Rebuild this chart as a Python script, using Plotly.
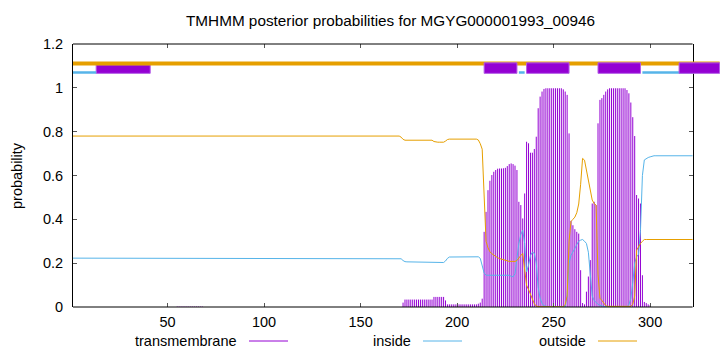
import plotly.graph_objects as go

# ---------------- data ----------------
residues = list(range(1, 323))
seq_len = 322

transmembrane = ([0.0] * 54 + [0.002] * 14 + [0.0] * 103 + [0.02] + [0.034] * 15 + [0.046] * 6 + [0.03]
                 + [0.012] * 16
                 + [0.015, 0.02, 0.038, 0.343, 0.434, 0.533, 0.576, 0.602, 0.617, 0.625,
                    0.631, 0.632, 0.632, 0.633, 0.635, 0.643, 0.652, 0.655, 0.652, 0.645,
                    0.625, 0.48, 0.465, 0.404, 0.518, 0.754, 0.747, 0.704, 0.704, 0.721,
                    0.777, 0.907, 0.96, 0.983, 0.995]
                 + [0.998] * 9
                 + [0.993, 0.983, 0.968, 0.792, 0.393, 0.373, 0.355, 0.343, 0.335, 0.168,
                    0.018, 0.012, 0.07, 0.139, 0.214, 0.472, 0.48, 0.465, 0.838, 0.945,
                    0.953, 0.968, 0.983, 0.993]
                 + [0.998] * 9
                 + [0.99, 0.975, 0.933, 0.866, 0.78, 0.511, 0.495, 0.472, 0.145, 0.023,
                    0.018, 0.012, 0.008]
                 + [0.0] * 22)

inside = ([0.223] * 170 + [0.22, 0.212, 0.207, 0.206] + [0.206] * 13 + [0.204] + [0.203] * 5
          + [0.21, 0.222] + [0.228] * 15
          + [0.229, 0.222, 0.19, 0.155] + [0.145] * 13
          + [0.14, 0.138, 0.152, 0.22, 0.29, 0.33, 0.351, 0.29, 0.16, 0.19,
             0.235, 0.25, 0.245, 0.2, 0.09, 0.04, 0.017, 0.005]
          + [0.002] * 11
          + [0.05, 0.2, 0.236, 0.25, 0.267, 0.285, 0.3, 0.305, 0.308, 0.3,
             0.29, 0.25, 0.15, 0.05, 0.03, 0.02, 0.012, 0.008, 0.004]
          + [0.002] * 13
          + [0.01, 0.04, 0.11, 0.2, 0.229, 0.24, 0.35, 0.6, 0.671, 0.678,
             0.682, 0.685, 0.688]
          + [0.69] * 21)

outside = ([0.78] * 170 + [0.775, 0.765] + [0.761] * 15 + [0.755] + [0.752] * 5
           + [0.757, 0.764] + [0.766] * 15
           + [0.762, 0.745, 0.72, 0.47, 0.3, 0.27, 0.252, 0.243, 0.236, 0.23,
              0.225, 0.221, 0.218, 0.215, 0.213]
           + [0.208] * 5
           + [0.212, 0.225, 0.235, 0.244, 0.183, 0.099, 0.08, 0.06, 0.04, 0.015, 0.004]
           + [0.001] * 14
           + [0.012, 0.05, 0.3, 0.39, 0.4, 0.41, 0.43, 0.47, 0.56, 0.678,
              0.67, 0.62, 0.58, 0.53, 0.488, 0.472, 0.465, 0.15, 0.04, 0.03,
              0.015, 0.006]
           + [0.003] * 13
           + [0.012, 0.05, 0.259, 0.277, 0.29, 0.3]
           + [0.308] * 26)

assert len(transmembrane) == seq_len, len(transmembrane)
assert len(inside) == seq_len, len(inside)
assert len(outside) == seq_len, len(outside)

# topology bar at the top of the plot
tm_start = [13, 214, 236, 273, 315]
tm_end = [41, 231, 258, 295, 336]
inside_start = [1, 232, 296]
inside_end = [13, 235, 322]
outside_start = [1]
outside_end = [336]

x_ticks = [50, 100, 150, 200, 250, 300]
y_ticks = [0, 0.2, 0.4, 0.6, 0.8, 1.0, 1.2]
y_tick_text = ["0", "0.2", "0.4", "0.6", "0.8", "1", "1.2"]

title = "TMHMM posterior probabilities for MGYG000001993_00946"
legend_names = ["transmembrane", "inside", "outside"]

# ---------------- style ----------------
PURPLE = "#9400D3"
BLUE = "#56B4E9"
ORANGE = "#E69F00"
FONT = "Liberation Sans, Arial, sans-serif"
FS = 14.5
W, H = 720, 352
ML, MR, MT, MB = 73, 0, 44, 45
x_range = [1, 336.2]
y_range = [0, 1.2]


def px_to_paper_x(px):
    return (px - ML) / (W - ML - MR)


def px_to_paper_y(py):
    return (H - MB - py) / (H - MT - MB)


fig = go.Figure()

# impulses (gnuplot "with impulses"): one vertical segment per residue
imp_x, imp_y = [], []
for r, v in zip(residues, transmembrane):
    if v > 0:
        imp_x += [r, r, None]
        imp_y += [0, v, None]
fig.add_trace(go.Scatter(x=imp_x, y=imp_y, mode="lines", connectgaps=False,
                         line=dict(color=PURPLE, width=1), showlegend=False, hoverinfo="skip"))
fig.add_trace(go.Scatter(x=residues, y=inside, mode="lines",
                         line=dict(color=BLUE, width=1), showlegend=False))
fig.add_trace(go.Scatter(x=residues, y=outside, mode="lines",
                         line=dict(color=ORANGE, width=1), showlegend=False))
# dummy trace to activate the mirror axes
fig.add_trace(go.Scatter(x=[None], y=[None], xaxis="x2", yaxis="y2", showlegend=False))

shapes = []
# first TM box drawn beneath the outside line
shapes.append(dict(type="rect", xref="x", yref="y", x0=tm_start[0], x1=tm_end[0],
                   y0=1.066, y1=1.105, fillcolor=PURPLE, line=dict(color="#b35ee6", width=1)))
for s, e in zip(outside_start, outside_end):
    shapes.append(dict(type="line", xref="x", yref="y", x0=s, x1=e, y0=1.111, y1=1.111,
                       line=dict(color=ORANGE, width=4)))
for s, e in zip(inside_start, inside_end):
    shapes.append(dict(type="line", xref="x", yref="y", x0=s, x1=e, y0=1.07, y1=1.07,
                       line=dict(color=BLUE, width=2.5)))
for s, e in zip(tm_start[1:], tm_end[1:]):
    shapes.append(dict(type="rect", xref="x", yref="y", x0=s, x1=e,
                       y0=1.066, y1=1.114, fillcolor=PURPLE, line=dict(color="#b35ee6", width=1)))

# frame (bottom, top) limited to the sequence length
for yy in (0, 1):
    shapes.append(dict(type="line", xref="x", yref="paper", x0=x_range[0], x1=seq_len,
                       y0=yy, y1=yy, line=dict(color="black", width=1)))

# custom legend (text followed by sample line, gnuplot style)
legend_text_right = [239, 413, 588]
legend_colors = [PURPLE, BLUE, ORANGE]
annotations = []
leg_y = px_to_paper_y(341)
for name, right, col in zip(legend_names, legend_text_right, legend_colors):
    annotations.append(dict(text=name, xref="paper", yref="paper", x=px_to_paper_x(right), y=leg_y,
                            xanchor="right", yanchor="middle", showarrow=False,
                            font=dict(family=FONT, size=FS, color="black")))
    shapes.append(dict(type="line", xref="paper", yref="paper",
                       x0=px_to_paper_x(right + 10), x1=px_to_paper_x(right + 49),
                       y0=leg_y, y1=leg_y, line=dict(color=col, width=1)))

annotations.append(dict(text=title, xref="paper", yref="paper", x=px_to_paper_x(390),
                        y=px_to_paper_y(20), xanchor="center", yanchor="middle", showarrow=False,
                        font=dict(family=FONT, size=15.3, color="black")))
annotations.append(dict(text="probability", xref="paper", yref="paper", x=px_to_paper_x(17),
                        y=px_to_paper_y(176), xanchor="center", yanchor="middle", showarrow=False,
                        textangle=-90, font=dict(family=FONT, size=FS, color="black")))

right_pos = (seq_len - x_range[0]) / (x_range[1] - x_range[0])

fig.update_layout(
    width=W, height=H,
    margin=dict(l=ML, r=MR, t=MT, b=MB, pad=0),
    paper_bgcolor="white", plot_bgcolor="white",
    font=dict(family=FONT, size=FS, color="black"),
    showlegend=False,
    shapes=shapes,
    annotations=annotations,
    xaxis=dict(range=x_range, tickvals=x_ticks, ticktext=[str(v) for v in x_ticks],
               ticks="inside", ticklen=4, tickcolor="#555", showgrid=False, zeroline=False,
               showline=False, ticklabelstandoff=4,
               tickfont=dict(family=FONT, size=FS)),
    yaxis=dict(range=y_range, tickvals=y_ticks, ticktext=y_tick_text,
               ticks="inside", ticklen=4, tickcolor="#555", showgrid=False, zeroline=False,
               showline=True, linecolor="black", linewidth=1, ticklabelstandoff=6,
               tickfont=dict(family=FONT, size=FS)),
    xaxis2=dict(range=x_range, overlaying="x", side="top", anchor="y", tickvals=x_ticks,
                ticks="inside", ticklen=4, tickcolor="#555", showticklabels=False,
                showgrid=False, zeroline=False, showline=False),
    yaxis2=dict(range=y_range, overlaying="y", side="right", anchor="free", position=right_pos,
                tickvals=y_ticks, ticks="inside", ticklen=4, tickcolor="#555",
                showticklabels=False, showgrid=False, zeroline=False,
                showline=True, linecolor="black", linewidth=1),
)

fig.write_html("out.html")
